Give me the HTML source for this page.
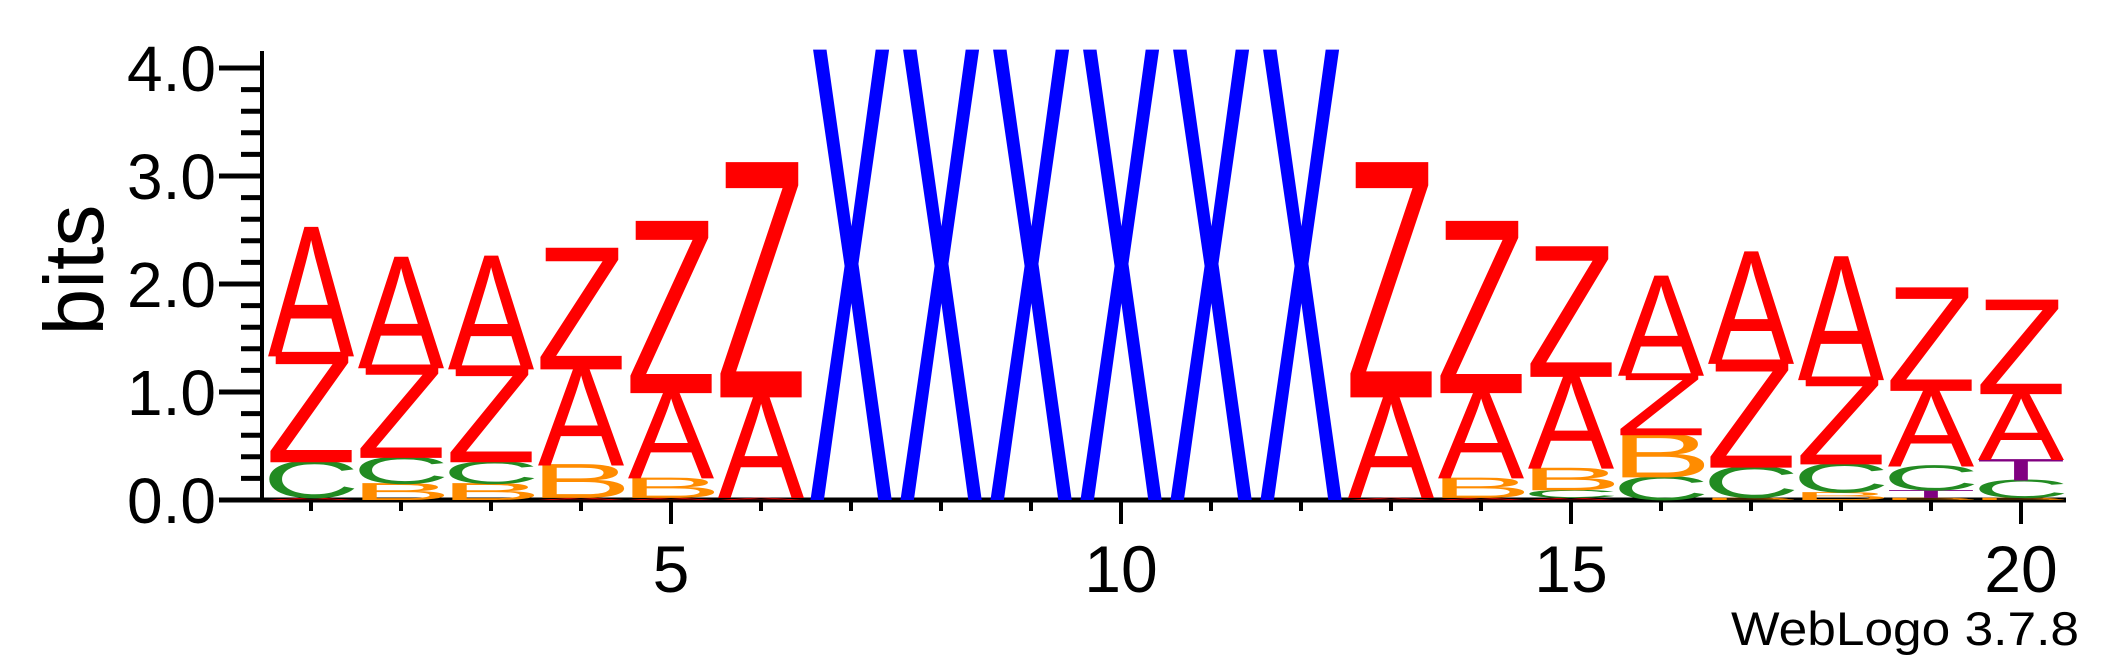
<!DOCTYPE html>
<html><head><meta charset="utf-8"><style>
html,body{margin:0;padding:0;background:#fff;}
svg{display:block;}
text{font-family:"Liberation Sans",Arial,sans-serif;}
</style></head><body>
<svg id="chart" width="2117" height="667" viewBox="0 0 2117 667">
<g id="axes"></g>
<g id="logo"></g>
<text x="74" y="270" font-size="84" text-anchor="middle" dominant-baseline="central" transform="rotate(-90 74 270)">bits</text>
<text x="2079" y="645" font-size="47" text-anchor="end" textLength="348" lengthAdjust="spacingAndGlyphs">WebLogo 3.7.8</text>
</svg>
<script>
const positions = [1,2,3,4,5,6,7,8,9,10,11,12,13,14,15,16,17,18,19,20];
const stackLetters = [
 ["A","C","Z","A"],["B","C","Z","A"],["B","C","Z","A"],["A","B","A","Z"],["A","B","A","Z"],
 ["A","A","Z"],["X"],["X"],["X"],["X"],["X"],["X"],
 ["A","A","Z"],["A","B","A","Z"],["A","C","B","A","Z"],["C","B","Z","A"],["B","C","Z","A"],
 ["B","C","Z","A"],["B","T","C","A","Z"],["B","C","T","A","Z"]
];
const stackHeights = [
 [0.02,0.33,0.98,1.15],[0.15,0.24,0.83,0.99],[0.15,0.2,0.86,1.01],[0.02,0.3,0.89,1.08],[0.02,0.18,0.79,1.53],
 [0.02,0.93,2.09],[4.0],[4.0],[4.0],[4.0],[4.0],[4.0],
 [0.02,0.93,2.09],[0.02,0.18,0.79,1.53],[0.02,0.07,0.2,0.85,1.16],[0.21,0.39,0.55,0.89],[0.02,0.28,0.96,1.0],
 [0.07,0.26,0.78,1.1],[0.02,0.07,0.22,0.7,0.92],[0.02,0.16,0.19,0.61,0.84]
];
const yTicks = [0,1,2,3,4];
const yTickLabels = ["0.0","1.0","2.0","3.0","4.0"];
const xTickLabels = ["5","10","15","20"];
const xLabelPos = [5,10,15,20];

const NS = "http://www.w3.org/2000/svg";
const X0 = 311, DX = 90, Y0 = 500, BIT = 108;
function xs(p){ return X0 + (p-1)*DX; }
function ys(b){ return Y0 - b*BIT; }
const colors = {A:"#ff0000",Z:"#ff0000",X:"#0000ff",B:"#ff8c00",C:"#228b22",T:"#800080"};
const inkW = {A:0.664,B:0.56,C:0.64,Z:0.58,X:0.66,T:0.58};
const axes = document.getElementById('axes');
const logo = document.getElementById('logo');
function mk(tag, attrs, parent){ const e=document.createElementNS(NS,tag); for(const k in attrs) e.setAttribute(k,attrs[k]); parent.appendChild(e); return e; }

let yl = mk('line',{x1:262,y1:51,x2:262,y2:502,stroke:'#000','stroke-width':4},axes);


for(let i=0;i<=20;i++){
  const b=i*0.2, major=(i%5===0);
  const t=mk('line',{x1: major?219:241, y1: ys(b), x2:262, y2: ys(b), stroke:'#000','stroke-width':5},axes);
  
  
}
yTicks.forEach((v,i)=>{
  const t=mk('text',{x:216,y:ys(v)+23,'font-size':64,'text-anchor':'end'},axes);
  t.textContent=yTickLabels[i];
  
  
});
let xl = mk('line',{x1:260,y1:500,x2:2066,y2:500,stroke:'#000','stroke-width':5},axes);


positions.forEach(p=>{
  const major = xLabelPos.indexOf(p)>=0;
  const t=mk('line',{x1:xs(p),y1:500,x2:xs(p),y2: major?524:511,stroke:'#000','stroke-width':4},axes);
  
  
});
xLabelPos.forEach((p,i)=>{
  const t=mk('text',{x:xs(p),y:592,'font-size':66,'text-anchor':'middle'},axes);
  t.textContent=xTickLabels[i];
  
  
});
const FS=100, CAP=0.66*FS, BOXW=86;
positions.forEach((p,i)=>{
  const g=mk('g',{},logo);
  
  
  let base=0;
  stackLetters[i].forEach((L,j)=>{
    const h=stackHeights[i][j];
    const bottom=ys(base), hpx=h*BIT;
    const sx=BOXW/(inkW[L]*FS), sy=hpx/CAP;
    const t=mk('text',{x:0,y:0,'font-size':FS,'text-anchor':'middle',fill:colors[L],
      transform:`translate(${xs(p)},${bottom}) scale(${sx},${sy})`},g);
    t.textContent=L;
    
    
    base+=h;
  });
});
</script>
</body></html>
